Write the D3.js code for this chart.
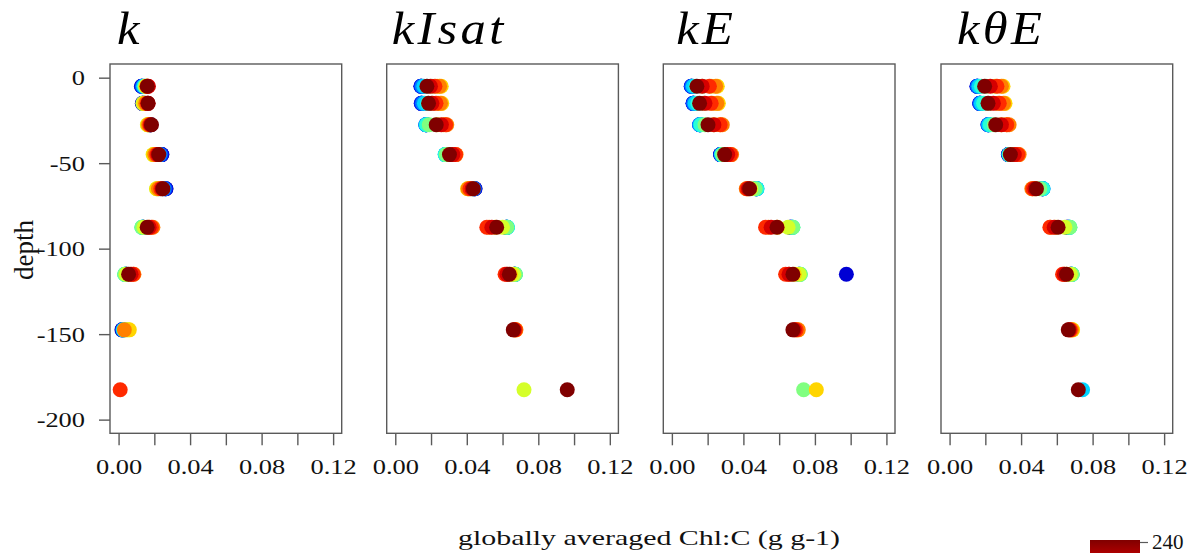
<!DOCTYPE html>
<html>
<head>
<meta charset="utf-8">
<script src="https://cdn.jsdelivr.net/npm/d3@7"></script>
<style>
  html, body { margin: 0; padding: 0; background: #ffffff; }
  svg { display: block; }
</style>
</head>
<body>
<svg id="chart" width="1188" height="553"></svg>
<script>
// Depth levels (m) and model days shown as coloured series
const depths = [-5, -15, -27.5, -45, -65, -87.5, -115, -147.5, -182.5];
const days = [0, 20, 40, 60, 80, 100, 120, 140, 160, 180, 200, 220, 240];

// Panel titles (chlorophyll schemes)
const panelTitles = ["k", "kIsat", "kE", "k\u03B8E"];

// Globally averaged Chl:C per depth (rows) and day (columns)
const chlK = [
  [0.0128, 0.0129, 0.0131, 0.0135, 0.0140, 0.0145, 0.0148, 0.0152, 0.0155, 0.0158, 0.0163, 0.0167, 0.0160],
  [0.0133, 0.0134, 0.0137, 0.0142, 0.0147, 0.0145, 0.0139, 0.0136, 0.0143, 0.0152, 0.0160, 0.0165, 0.0165],
  [0.0175, 0.0177, 0.0179, 0.0181, 0.0177, 0.0170, 0.0165, 0.0161, 0.0163, 0.0168, 0.0175, 0.0180, 0.0184],
  [0.0242, 0.0241, 0.0238, 0.0232, 0.0224, 0.0212, 0.0201, 0.0193, 0.0195, 0.0203, 0.0213, 0.0220, 0.0225],
  [0.0265, 0.0264, 0.0261, 0.0255, 0.0245, 0.0232, 0.0220, 0.0212, 0.0214, 0.0223, 0.0236, 0.0244, 0.0248],
  [0.0140, 0.0138, 0.0136, 0.0134, 0.0132, 0.0130, 0.0130, 0.0142, 0.0168, 0.0192, 0.0184, 0.0171, 0.0160],
  [0.0045, 0.0043, 0.0040, 0.0037, 0.0035, 0.0034, 0.0034, 0.0042, 0.0063, 0.0086, 0.0082, 0.0070, 0.0056],
  [0.0019, 0.0021, 0.0023, 0.0025, 0.0027, 0.0030, 0.0040, 0.0052, 0.0060, 0.0032, null, null, null],
  [null, null, null, null, null, null, null, null, null, null, 0.0009, null, null]
];
const chlKIsat = [
  [0.0145, 0.0143, 0.0145, 0.0150, 0.0160, 0.0178, 0.0205, 0.0235, 0.0257, 0.0248, 0.0222, 0.0197, 0.0177],
  [0.0147, 0.0145, 0.0147, 0.0153, 0.0163, 0.0182, 0.0210, 0.0240, 0.0260, 0.0253, 0.0228, 0.0205, 0.0186],
  [0.0175, 0.0172, 0.0171, 0.0171, 0.0172, 0.0176, 0.0190, 0.0235, 0.0270, 0.0288, 0.0282, 0.0258, 0.0229],
  [0.0290, 0.0286, 0.0282, 0.0280, 0.0279, 0.0280, 0.0286, 0.0305, 0.0325, 0.0340, 0.0337, 0.0322, 0.0303],
  [0.0446, 0.0445, 0.0443, 0.0440, 0.0436, 0.0430, 0.0420, 0.0410, 0.0404, 0.0408, 0.0418, 0.0430, 0.0437],
  [0.0620, 0.0622, 0.0624, 0.0626, 0.0627, 0.0627, 0.0624, 0.0600, 0.0560, 0.0525, 0.0512, 0.0540, 0.0567],
  [0.0665, 0.0667, 0.0669, 0.0670, 0.0671, 0.0672, 0.0672, 0.0662, 0.0645, 0.0628, 0.0614, 0.0624, 0.0638],
  [null, null, null, null, null, null, null, null, 0.0673, 0.0675, 0.0671, 0.0665, 0.0660],
  [null, null, null, null, null, null, null, 0.0720, null, null, null, null, 0.0962]
];
const chlKE = [
  [0.0110, 0.0108, 0.0109, 0.0113, 0.0120, 0.0135, 0.0170, 0.0220, 0.0254, 0.0245, 0.0210, 0.0170, 0.0140],
  [0.0120, 0.0118, 0.0119, 0.0123, 0.0130, 0.0145, 0.0180, 0.0228, 0.0260, 0.0252, 0.0220, 0.0185, 0.0155],
  [0.0160, 0.0156, 0.0155, 0.0156, 0.0158, 0.0163, 0.0185, 0.0235, 0.0272, 0.0282, 0.0270, 0.0235, 0.0202],
  [0.0272, 0.0273, 0.0274, 0.0276, 0.0278, 0.0280, 0.0285, 0.0300, 0.0320, 0.0334, 0.0328, 0.0312, 0.0295],
  [0.0470, 0.0472, 0.0474, 0.0475, 0.0476, 0.0474, 0.0465, 0.0442, 0.0425, 0.0416, 0.0420, 0.0428, 0.0435],
  [0.0660, 0.0664, 0.0668, 0.0672, 0.0675, 0.0677, 0.0677, 0.0650, 0.0590, 0.0540, 0.0524, 0.0555, 0.0588],
  [null, 0.0976, 0.0710, 0.0712, 0.0715, 0.0718, 0.0719, 0.0712, 0.0685, 0.0655, 0.0636, 0.0655, 0.0677],
  [null, null, null, null, null, null, null, null, 0.0703, 0.0707, 0.0695, 0.0685, 0.0677],
  [null, null, null, null, null, null, 0.0737, null, 0.0808, null, null, null, null]
];
const chlKThetaE = [
  [0.0155, 0.0153, 0.0154, 0.0158, 0.0165, 0.0178, 0.0205, 0.0255, 0.0299, 0.0290, 0.0265, 0.0228, 0.0196],
  [0.0170, 0.0168, 0.0169, 0.0172, 0.0178, 0.0190, 0.0220, 0.0270, 0.0310, 0.0302, 0.0278, 0.0245, 0.0215],
  [0.0218, 0.0215, 0.0215, 0.0217, 0.0220, 0.0228, 0.0250, 0.0290, 0.0320, 0.0333, 0.0320, 0.0290, 0.0258],
  [0.0329, 0.0330, 0.0331, 0.0332, 0.0333, 0.0334, 0.0338, 0.0350, 0.0372, 0.0389, 0.0382, 0.0362, 0.0340],
  [0.0518, 0.0520, 0.0521, 0.0522, 0.0523, 0.0520, 0.0505, 0.0480, 0.0465, 0.0460, 0.0466, 0.0477, 0.0486],
  [0.0655, 0.0660, 0.0665, 0.0668, 0.0671, 0.0673, 0.0673, 0.0645, 0.0595, 0.0565, 0.0561, 0.0585, 0.0607],
  [0.0676, 0.0679, 0.0682, 0.0684, 0.0685, 0.0686, 0.0686, 0.0676, 0.0655, 0.0640, 0.0632, 0.0642, 0.0654],
  [null, null, null, null, null, null, null, 0.0686, 0.0688, 0.0682, 0.0675, 0.0669, 0.0664],
  [null, null, null, null, 0.0744, null, null, null, null, null, null, null, 0.0720]
];
const panelData = [chlK, chlKIsat, chlKE, chlKThetaE];

// Axis ticks and labels
const xTicks = [0, 0.02, 0.04, 0.06, 0.08, 0.10, 0.12];
const xLabelled = [0, 0.04, 0.08, 0.12];
const yTicks = [0, -50, -100, -150, -200];
const xTitle = "globally averaged Chl:C (g g-1)";
const yTitle = "depth";
const colorbarMax = 240;

// ---------------------------------------------------------------
const svg = d3.select("#chart");
const SX_TICK = 1.2;          // horizontal stretch of tick lettering
const SX_TITLE = 1.36;        // horizontal stretch of the axis title
const FONT = "'Liberation Serif', 'Times New Roman', serif";
const INK = "#111";

const panelLefts = [110, 386.7, 663.3, 941];
const titleOffsets = [7, 5, 13, 16];
const panelW = 231.7, plotTop = 64, plotBottom = 433.3;

// jet colour map
function jet(t) {
  const c = v => Math.max(0, Math.min(1, v));
  const r = c(1.5 - Math.abs(4 * t - 3));
  const g = c(1.5 - Math.abs(4 * t - 2));
  const b = c(1.5 - Math.abs(4 * t - 1));
  return d3.rgb(r * 255, g * 255, b * 255).toString();
}
const color = d3.scaleSequential(jet).domain([0, 240]);

const defs = svg.append("defs");
defs.append("filter").attr("id", "soft")
  .attr("x", "-20%").attr("y", "-20%").attr("width", "140%").attr("height", "140%")
  .append("feGaussianBlur").attr("stdDeviation", 0.7);

const y = d3.scaleLinear().domain([-208, 8]).range([plotBottom, plotTop]);

panelData.forEach((rows, p) => {
  const x0 = panelLefts[p];
  const x = d3.scaleLinear().domain([-0.0048, 0.1248]).range([x0, x0 + panelW]);
  const g = svg.append("g");

  // points, earliest day first so the latest sits on top
  const pts = [];
  days.forEach((d, j) => {
    rows.forEach((row, i) => {
      if (row[j] != null) pts.push({ day: d, depth: depths[i], v: row[j] });
    });
  });
  g.append("g").attr("filter", "url(#soft)")
    .selectAll("circle").data(pts).join("circle")
    .attr("cx", d => x(d.v))
    .attr("cy", d => y(d.depth))
    .attr("r", 7.5)
    .attr("fill", d => color(d.day));

  // frame
  g.append("rect")
    .attr("x", x0).attr("y", plotTop)
    .attr("width", panelW).attr("height", plotBottom - plotTop)
    .attr("fill", "none").attr("stroke", "#5a5a5a").attr("stroke-width", 1.4);

  // x axis
  const ax = g.append("g").attr("transform", `translate(0,${plotBottom})`)
    .call(d3.axisBottom(x).tickValues(xTicks).tickSize(12).tickSizeOuter(0)
      .tickFormat(v => xLabelled.some(l => Math.abs(l - v) < 1e-9) ? v.toFixed(2) : ""));
  ax.select(".domain").remove();
  ax.selectAll(".tick line").attr("stroke", "#5a5a5a").attr("stroke-width", 1.4);
  ax.selectAll(".tick text")
    .attr("y", 41).attr("dy", null)
    .attr("transform", `scale(${SX_TICK},1)`)
    .attr("font-family", FONT).attr("font-size", 22).attr("fill", INK);

  // y axis on the first panel only
  if (p === 0) {
    const ay = g.append("g").attr("transform", `translate(${x0},0)`)
      .call(d3.axisLeft(y).tickValues(yTicks).tickSize(11).tickSizeOuter(0)
        .tickFormat(v => String(v)));
    ay.select(".domain").remove();
    ay.selectAll(".tick line").attr("stroke", "#5a5a5a").attr("stroke-width", 1.4);
    ay.selectAll(".tick text")
      .attr("x", -25 / SX_TICK).attr("dy", "0.33em")
      .attr("transform", `scale(${SX_TICK},1)`)
      .attr("font-family", FONT).attr("font-size", 22).attr("fill", INK);
  }

  // panel title
  svg.append("text")
    .attr("transform", `translate(${x0 + titleOffsets[p]},44) scale(1.1,1)`)
    .attr("font-family", FONT).attr("font-style", "italic")
    .attr("font-size", 46).attr("letter-spacing", 3).attr("fill", "#000")
    .text(panelTitles[p]);
});

// axis titles
svg.append("text")
  .attr("transform", `translate(649,545) scale(${SX_TITLE},1)`)
  .attr("text-anchor", "middle")
  .attr("font-family", FONT).attr("font-size", 22).attr("fill", INK)
  .text(xTitle);

svg.append("text")
  .attr("transform", "translate(33,250) rotate(-90)")
  .attr("text-anchor", "middle")
  .attr("font-family", FONT).attr("font-size", 27).attr("fill", INK)
  .text(yTitle);

// colour bar (days), running downward from its maximum
const cbTop = 540, cbLen = 300;
const cbScale = d3.scaleLinear().domain([colorbarMax, 0]).range([cbTop, cbTop + cbLen]);
const grad = defs.append("linearGradient").attr("id", "cbar")
  .attr("x1", 0).attr("y1", 0).attr("x2", 0).attr("y2", 1);
d3.range(0, 1.0001, 0.05).forEach(f => {
  grad.append("stop").attr("offset", f).attr("stop-color", color(colorbarMax * (1 - f)));
});
svg.append("rect")
  .attr("x", 1090).attr("y", cbTop).attr("width", 50).attr("height", cbLen)
  .attr("fill", "url(#cbar)");
const cbAxis = svg.append("g").attr("transform", "translate(1140,2)")
  .call(d3.axisRight(cbScale).tickValues([colorbarMax]).tickSize(8).tickSizeOuter(0));
cbAxis.select(".domain").remove();
cbAxis.selectAll(".tick line").attr("stroke", "#5a5a5a").attr("stroke-width", 1.2);
cbAxis.selectAll(".tick text")
  .attr("x", 12).attr("font-family", FONT).attr("font-size", 21).attr("fill", INK);
</script>
</body>
</html>
